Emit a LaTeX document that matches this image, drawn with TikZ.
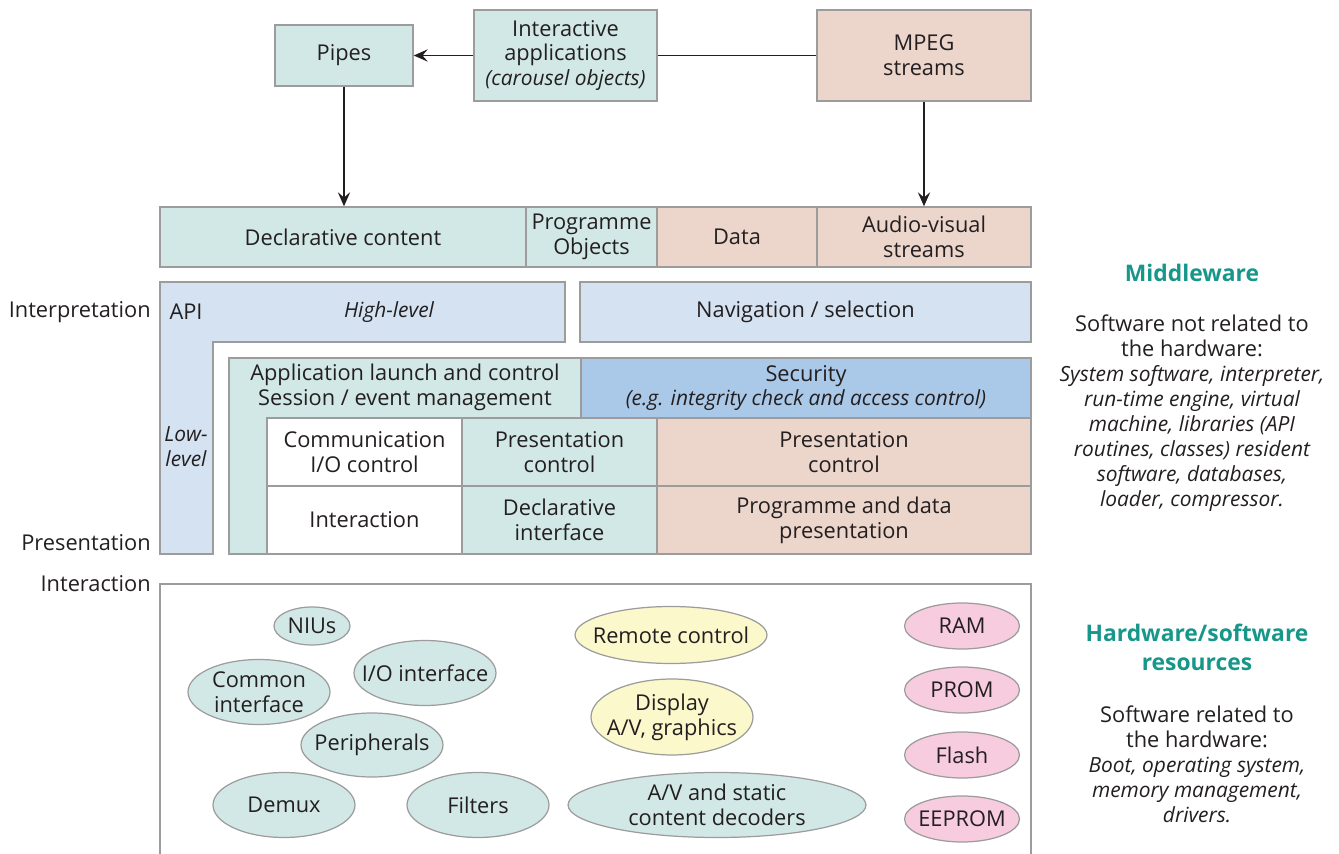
\documentclass[tikz,border=0pt]{standalone}
\usepackage{fontspec}
\setmainfont{Open Sans}
\usetikzlibrary{shapes.geometric,arrows.meta}
\definecolor{grn}{HTML}{D2E8E7}
\definecolor{pnk}{HTML}{ECD5CB}
\definecolor{lbl}{HTML}{D4E2F2}
\definecolor{sec}{HTML}{AAC8E8}
\definecolor{ylw}{HTML}{FBF8CC}
\definecolor{mag}{HTML}{F7CCDF}
\definecolor{teal}{HTML}{17978A}
\definecolor{bord}{HTML}{9C9C9C}
\definecolor{txt}{HTML}{231F20}
\newcommand\itx[1]{{\fontsize{11.9}{14.2}\selectfont\itshape #1}}
% ellipse with its text as a separate centred node
\newcommand\ellnode[6]{%
  \node[ell, fill=#2, minimum width=#3, minimum height=#4] (#1) at (#5) {};
  \node[align=center] (#1t) at (#1.center) {#6};}
\begin{document}
\begin{tikzpicture}[x=0.02cm,y=-0.02cm,
  font=\fontsize{12.4}{14.2}\selectfont, text=txt,
  box/.style={draw=bord, line width=0.8pt, inner sep=0pt, align=center},
  ell/.style={ellipse, draw=bord, line width=0.7pt, inner sep=0pt},
  conn/.style={draw=txt, line width=0.7pt},
  arr/.style={conn, -{Stealth[length=8pt,width=7pt,inset=3pt]}},
  side/.style={anchor=east, inner sep=0pt},
  ttl/.style={text=teal, font=\fontsize{13}{16.5}\selectfont\bfseries, align=center},
  desc/.style={align=center}]
\useasboundingbox (0,0) rectangle (1339,854);

% top boxes
\node[box, fill=grn, minimum width=2.76cm, minimum height=1.22cm] (pipes) at (344,55.5) {Pipes};
\node[box, fill=grn, minimum width=3.66cm, minimum height=1.82cm] (inter) at (565.5,55.5) {Interactive\\applications\\\itx{(carousel objects)}};
\node[box, fill=pnk, minimum width=4.28cm, minimum height=1.82cm] (mpeg) at (924,55.5) {MPEG\\streams};

% content row
\node[box, fill=grn, minimum width=7.32cm, minimum height=1.2cm] (decl) at (343,237) {Declarative content};
\node[box, fill=grn, minimum width=2.62cm, minimum height=1.2cm] (prog) at (591.5,237) {Programme\\Objects};
\node[box, fill=pnk, minimum width=3.2cm, minimum height=1.2cm] (data) at (737,237) {Data};
\node[box, fill=pnk, minimum width=4.28cm, minimum height=1.2cm] (av) at (924,237) {Audio-visual\\streams};

\draw[conn] (mpeg.west) -- (inter.east);
\draw[arr] (inter.west) -- (pipes.east);
\draw[arr] (pipes.south) -- (pipes.south |- decl.north);
\draw[arr] (mpeg.south) -- (mpeg.south |- av.north);

% API L-shape
\draw[draw=bord, line width=0.8pt, fill=lbl] (160,282) -- (565,282) -- (565,342) -- (213,342) -- (213,554) -- (160,554) -- cycle;
\node (api) at (186,312) {API};
\node (high) at (389,312) {\itx{High-level}};
\node[align=center] (low) at (186,447) {\itx{Low-}\\\itx{level}};
\node[box, fill=lbl, minimum width=9.02cm, minimum height=1.2cm] (nav) at (805.5,312) {Navigation / selection};

% green L-shape
\draw[draw=bord, line width=0.8pt, fill=grn] (229,358) -- (581,358) -- (581,418) -- (267,418) -- (267,554) -- (229,554) -- cycle;
\node[align=center] (launch) at (405,387) {Application launch and control\\Session / event management};
\node[box, fill=sec, minimum width=9.0cm, minimum height=1.2cm] (secu) at (806,388) {Security\\\itx{(e.g. integrity check and access control)}};

\node[box, fill=white, minimum width=3.9cm, minimum height=1.36cm] (comm) at (364.5,452) {Communication\\I/O control};
\node[box, fill=grn, minimum width=3.9cm, minimum height=1.36cm] (pc1) at (559.5,452) {Presentation\\control};
\node[box, fill=pnk, minimum width=7.48cm, minimum height=1.36cm] (pc2) at (844,452) {Presentation\\control};
\node[box, fill=white, minimum width=3.9cm, minimum height=1.36cm] (interact) at (364.5,520) {Interaction};
\node[box, fill=grn, minimum width=3.9cm, minimum height=1.36cm] (dint) at (559.5,520) {Declarative\\interface};
\node[box, fill=pnk, minimum width=7.48cm, minimum height=1.36cm] (pdp) at (844,520) {Programme and data\\presentation};

% side labels
\node[side] (l1) at (151,312) {Interpretation};
\node[side] (l2) at (151,543) {Presentation};
\node[side] (l3) at (151,584) {Interaction};

% resources frame
\draw[draw=bord, line width=0.8pt] (160,854) -- (160,584) -- (1031,584) -- (1031,854);

\ellnode{nius}{grn}{1.52cm}{0.76cm}{312,626}{NIUs}
\ellnode{ci}{grn}{2.84cm}{1.3cm}{259,692}{Common\\interface}
\ellnode{io}{grn}{2.84cm}{1.3cm}{425,673}{I/O interface}
\ellnode{peri}{grn}{2.84cm}{1.28cm}{372,745}{Peripherals}
\ellnode{demux}{grn}{2.84cm}{1.3cm}{284,805}{Demux}
\ellnode{filt}{grn}{2.84cm}{1.3cm}{478,805}{Filters}
\ellnode{rc}{ylw}{3.84cm}{1.14cm}{671,635}{Remote control}
\ellnode{disp}{ylw}{3.24cm}{1.52cm}{672,717}{Display\\A/V, graphics}
\ellnode{dec}{grn}{5.96cm}{1.3cm}{717,805}{A/V and static\\content decoders}
\ellnode{ram}{mag}{2.3cm}{0.92cm}{962,626}{RAM}
\ellnode{prom}{mag}{2.3cm}{0.92cm}{962,690}{PROM}
\ellnode{flash}{mag}{2.3cm}{0.92cm}{962,755}{Flash}
\ellnode{eeprom}{mag}{2.3cm}{0.92cm}{962,819}{EEPROM}

% right texts
\node[ttl] (mw) at (1192,273) {Middleware};
\node[desc] (mwd) at (1192,413) {Software not related to\\the hardware:\\\itx{System software, interpreter,}\\\itx{run-time engine, virtual}\\\itx{machine, libraries (API}\\\itx{routines, classes) resident}\\\itx{software, databases,}\\\itx{loader, compressor.}};
\node[ttl] (hw) at (1197,647) {Hardware/software\\resources};
\node[desc] (hwd) at (1197,764) {Software related to\\the hardware:\\\itx{Boot, operating system,}\\\itx{memory management,}\\\itx{drivers.}};
\end{tikzpicture}
\end{document}
